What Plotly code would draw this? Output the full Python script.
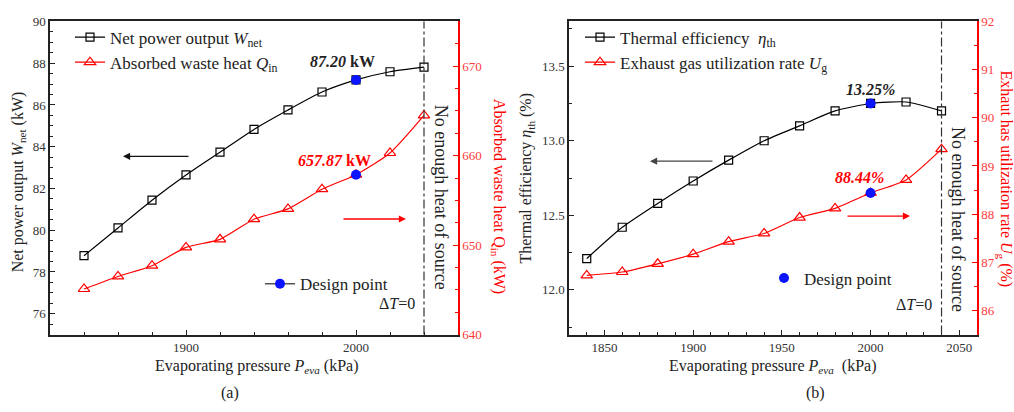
import plotly.graph_objects as go

# ---------------- data ----------------
pressure = [1840, 1860, 1880, 1900, 1920, 1940, 1960, 1980, 2000, 2020, 2040]
w_net = [78.78, 80.11, 81.44, 82.65, 83.74, 84.83, 85.76, 86.62, 87.20, 87.59, 87.81]
q_in = [645.1, 646.5, 647.7, 649.75, 650.65, 652.9, 654.05, 656.25, 657.87, 660.3, 664.5]
eta_th = [12.21, 12.42, 12.58, 12.73, 12.87, 13.00, 13.10, 13.20, 13.25, 13.26, 13.20]
u_g = [86.73, 86.80, 86.97, 87.17, 87.43, 87.60, 87.93, 88.12, 88.44, 88.71, 89.35]

design_p = 2000
design_w = 87.20
design_q = 657.87
design_eta = 13.25
design_ug = 88.44
limit_p = 2040

W, H = 1014, 412
FONT = "Liberation Serif"
RED = "#ff0000"
RED_T = "#ff3b3b"


def px(x):
    return x / W


def py(y):
    return 1 - y / H


fig = go.Figure()

spline = dict(shape="spline", smoothing=0.6, width=1.2)

# ---- panel (a) ----
fig.add_trace(go.Scatter(x=pressure, y=w_net, mode="lines+markers", xaxis="x", yaxis="y",
                         name="Net power output <i>W</i><sub>net</sub>",
                         line=dict(color="black", **spline),
                         marker=dict(symbol="square-open", size=8, color="black", line=dict(width=1.2)),
                         legend="legend"))
fig.add_trace(go.Scatter(x=pressure, y=q_in, mode="lines+markers", xaxis="x", yaxis="y2",
                         name="Absorbed waste heat <i>Q</i><sub>in</sub>",
                         line=dict(color=RED, **spline),
                         marker=dict(symbol="triangle-up-open", size=10, color=RED, line=dict(width=1.2)),
                         legend="legend"))
fig.add_trace(go.Scatter(x=[design_p], y=[design_w], mode="lines+markers", xaxis="x", yaxis="y",
                         name="Design point", line=dict(color="#555555", width=1.5),
                         marker=dict(size=10, color="#0a14ff"), legend="legend2"))
fig.add_trace(go.Scatter(x=[design_p], y=[design_q], mode="markers", xaxis="x", yaxis="y2",
                         showlegend=False, marker=dict(size=10, color="#0a14ff")))

# ---- panel (b) ----
fig.add_trace(go.Scatter(x=pressure, y=eta_th, mode="lines+markers", xaxis="x2", yaxis="y3",
                         name="Thermal efficiency  <i>η</i><sub>th</sub>",
                         line=dict(color="black", **spline),
                         marker=dict(symbol="square-open", size=8, color="black", line=dict(width=1.2)),
                         legend="legend3"))
fig.add_trace(go.Scatter(x=pressure, y=u_g, mode="lines+markers", xaxis="x2", yaxis="y4",
                         name="Exhaust gas utilization rate <i>U</i><sub>g</sub>",
                         line=dict(color=RED, **spline),
                         marker=dict(symbol="triangle-up-open", size=10, color=RED, line=dict(width=1.2)),
                         legend="legend3"))
fig.add_trace(go.Scatter(x=[design_p], y=[design_eta], mode="markers", xaxis="x2", yaxis="y3",
                         name="Design point", marker=dict(size=10, color="#0a14ff"), legend="legend4"))
fig.add_trace(go.Scatter(x=[design_p], y=[design_ug], mode="markers", xaxis="x2", yaxis="y4",
                         showlegend=False, marker=dict(size=10, color="#0a14ff")))

tickfont = dict(family=FONT, size=13, color="#333333")
redtick = dict(family=FONT, size=13, color=RED_T)

xa = dict(ticks="inside", ticklen=5, tickwidth=1, tickcolor="#222", showline=True, linecolor="#222",
          linewidth=1.5, mirror=True, showgrid=False, zeroline=False, tickfont=tickfont,
          minor=dict(ticks="inside", ticklen=3, tickcolor="#222", showgrid=False))
ya_left = dict(ticks="inside", ticklen=5, tickcolor="#222", showline=True, linecolor="#222", linewidth=1.5,
               showgrid=False, zeroline=False, tickfont=tickfont,
               minor=dict(ticks="inside", ticklen=3, tickcolor="#222", showgrid=False))
ya_right = dict(ticks="inside", ticklen=5, tickcolor=RED, showline=True, linecolor=RED, linewidth=1.5,
                showgrid=False, zeroline=False, tickfont=redtick, side="right",
                minor=dict(ticks="inside", ticklen=3, tickcolor=RED, showgrid=False))

ydom = [py(340), py(15)]

fig.update_layout(
    width=W, height=H, margin=dict(l=0, r=0, t=0, b=0),
    paper_bgcolor="white", plot_bgcolor="white",
    font=dict(family=FONT, color="#222"),
    xaxis=dict(domain=[px(50), px(458)], range=[1820, 2060], anchor="y", tickvals=[1900, 2000],
               **{**xa, "minor": dict(xa["minor"], dtick=20, tick0=1820)}),
    yaxis=dict(domain=ydom, range=[75, 90], anchor="x", dtick=2, tick0=76,
               **{**ya_left, "minor": dict(ya_left["minor"], dtick=0.5, tick0=75)}),
    yaxis2=dict(range=[640, 675], overlaying="y", anchor="x", dtick=10, tick0=640,
                **{**ya_right, "minor": dict(ya_right["minor"], dtick=2.5, tick0=640)}),
    xaxis2=dict(domain=[px(569), px(977)], range=[1830, 2060], anchor="y3", dtick=50, tick0=1850,
                **{**xa, "minor": dict(xa["minor"], dtick=10, tick0=1830)}),
    yaxis3=dict(domain=ydom, range=[11.7, 13.8], anchor="x2", dtick=0.5, tick0=12, tickformat=".1f",
                **{**ya_left, "minor": dict(ya_left["minor"], dtick=0.25, tick0=11.75)}),
    yaxis4=dict(range=[85.5, 92], overlaying="y3", anchor="x2", dtick=1, tick0=86,
                **{**ya_right, "minor": dict(ya_right["minor"], dtick=0.5, tick0=85.5)}),
    legend=dict(x=px(70), y=py(13), xanchor="left", yanchor="top", bgcolor="rgba(0,0,0,0)",
                font=dict(family=FONT, size=17, color="#222"), tracegroupgap=0),
    legend2=dict(x=px(260), y=py(269), xanchor="left", yanchor="top", bgcolor="rgba(0,0,0,0)",
                 font=dict(family=FONT, size=17, color="#222")),
    legend3=dict(x=px(580), y=py(13), xanchor="left", yanchor="top", bgcolor="rgba(0,0,0,0)",
                 font=dict(family=FONT, size=17, color="#222"), tracegroupgap=0),
    legend4=dict(x=px(764), y=py(263), xanchor="left", yanchor="top", bgcolor="rgba(0,0,0,0)",
                 font=dict(family=FONT, size=17, color="#222")),
    showlegend=True,
)

# dash-dot limit lines
for xr, yr in (("x", "y domain"), ("x2", "y3 domain")):
    fig.add_shape(type="line", xref=xr, yref=yr, x0=limit_p, x1=limit_p, y0=0, y1=1,
                  line=dict(color="#333", width=1.2, dash="dashdot"))

ann = []


def text(x, y, t, size=16, color="#222", angle=0, **kw):
    ann.append(dict(x=px(x), y=py(y), xref="paper", yref="paper", text=t, showarrow=False,
                    textangle=angle, font=dict(family=FONT, size=size, color=color),
                    xanchor="center", yanchor="middle", **kw))


def arrow(xh, yh, xt, yt, color):
    ann.append(dict(x=px(xh), y=py(yh), xref="paper", yref="paper", ax=xt - xh, ay=yt - yh,
                    text="", showarrow=True, arrowhead=2, arrowsize=1.1, arrowwidth=1.3,
                    arrowcolor=color))


# axis titles
text(18, 182, "Net power output <i>W</i><sub>net</sub> (kW)", 16, angle=-90)
text(498, 196, "Absorbed waste heat Q<sub>in</sub> (kW)", 16, RED, angle=90)
text(256, 373, "Evaporating pressure <i>P</i><sub><i>eva</i></sub> (kPa)", 16)
text(230, 401, "(a)", 16)
text(527, 178, "Thermal efficiency <i>η</i><sub>th</sub> (%)", 16, angle=-90)
text(1005, 178, "Exhaut has utilization rate <i>U</i><sub>g</sub> (%)", 16, RED, angle=90)
text(772, 373, "Evaporating pressure <i>P</i><sub><i>eva</i></sub>  (kPa)", 16)
text(815, 401, "(b)", 16)

# notes
text(441, 197, "No enough heat of source", 18, angle=90)
text(958, 220, "No enough heat of source", 18, angle=90)
text(397, 308, "Δ<i>T</i>=0", 16)
text(914, 309, "Δ<i>T</i>=0", 16)

# design values
for xr, yr, val, fmt, col, dx, dy in (
        ("x", "y", design_w, "<b><i>{:.2f}</i> kW</b>", "#222", -14, 18),
        ("x", "y2", design_q, "<b><i>{:.2f}</i> kW</b>", RED, -22, 14),
        ("x2", "y3", design_eta, "<b><i>{:.2f}%</i></b>", "#222", 0, 14),
        ("x2", "y4", design_ug, "<b><i>{:.2f}%</i></b>", RED, -11, 15)):
    ann.append(dict(x=design_p, y=val, xref=xr, yref=yr, text=fmt.format(val), showarrow=False,
                    xshift=dx, yshift=dy, yanchor="middle",
                    font=dict(family=FONT, size=16, color=col)))

# arrows
arrow(123, 155, 190, 155, "#111")
arrow(406, 220, 342, 220, RED)
arrow(650, 160, 714, 160, "#444")
arrow(910, 217, 846, 217, RED)

fig.update_layout(annotations=ann)
fig.write_html("out.html", config={"displayModeBar": False},
               post_script="document.body.style.margin='0';document.body.style.overflow='hidden';")
